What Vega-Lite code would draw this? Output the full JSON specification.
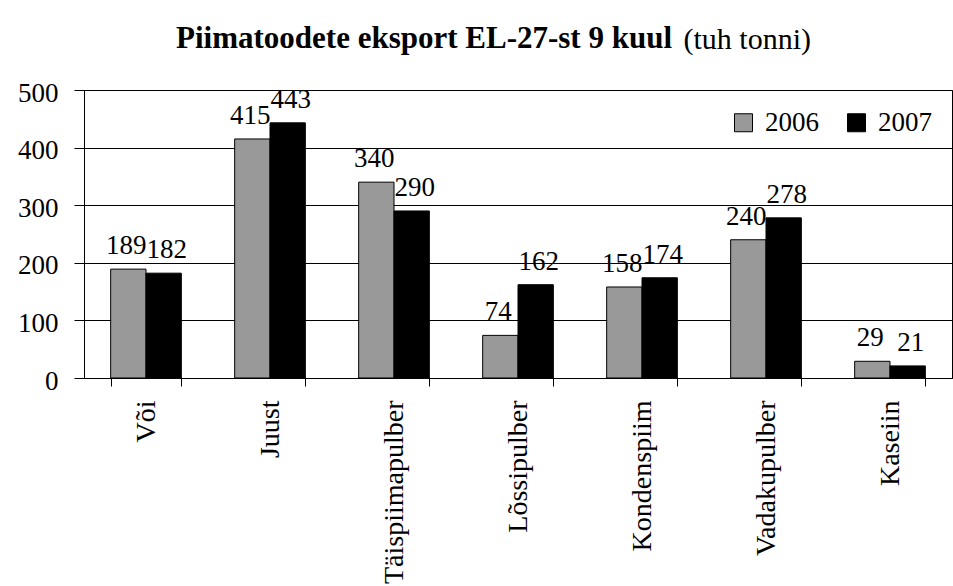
{
  "$schema": "https://vega.github.io/schema/vega-lite/v6.json",
  "width": 868,
  "height": 288,
  "autosize": {"type": "none"},
  "padding": {"left": 84, "top": 90, "right": 1, "bottom": 208},
  "background": "white",
  "title": {
    "text": "Piimatoodete eksport EL-27-st 9 kuul",
    "anchor": "start",
    "frame": "group",
    "dx": 92,
    "dy": 87,
    "offset": 32,
    "baseline": "alphabetic",
    "font": "Liberation Serif",
    "fontSize": 31,
    "fontWeight": "bold",
    "color": "black"
  },
  "data": {
    "values": [
      {"toode": "Või", "aasta": "2006", "tonni": 189},
      {"toode": "Või", "aasta": "2007", "tonni": 182},
      {"toode": "Juust", "aasta": "2006", "tonni": 415},
      {"toode": "Juust", "aasta": "2007", "tonni": 443},
      {"toode": "Täispiimapulber", "aasta": "2006", "tonni": 340},
      {"toode": "Täispiimapulber", "aasta": "2007", "tonni": 290},
      {"toode": "Lõssipulber", "aasta": "2006", "tonni": 74},
      {"toode": "Lõssipulber", "aasta": "2007", "tonni": 162},
      {"toode": "Kondenspiim", "aasta": "2006", "tonni": 158},
      {"toode": "Kondenspiim", "aasta": "2007", "tonni": 174},
      {"toode": "Vadakupulber", "aasta": "2006", "tonni": 240},
      {"toode": "Vadakupulber", "aasta": "2007", "tonni": 278},
      {"toode": "Kaseiin", "aasta": "2006", "tonni": 29},
      {"toode": "Kaseiin", "aasta": "2007", "tonni": 21}
    ]
  },
  "encoding": {
    "x": {
      "field": "toode",
      "type": "nominal",
      "sort": null,
      "scale": {"paddingInner": 0.43, "paddingOuter": 0.215},
      "axis": {
        "title": null,
        "labelAngle": -90,
        "labelFont": "Liberation Serif",
        "labelFontSize": 28,
        "labelColor": "black",
        "labelPadding": 14,
        "tickBand": "extent",
        "tickSize": 8,
        "tickColor": "black",
        "domainColor": "black",
        "labelLimit": 400
      }
    },
    "xOffset": {"field": "aasta", "type": "nominal", "sort": ["2006", "2007"]},
    "y": {
      "field": "tonni",
      "type": "quantitative",
      "scale": {"domain": [0, 500], "nice": false},
      "axis": {
        "values": [0, 100, 200, 300, 400, 500],
        "grid": true,
        "gridColor": "black",
        "gridOpacity": 1,
        "tickSize": 10,
        "tickColor": "black",
        "domainColor": "black",
        "labelFont": "Liberation Serif",
        "labelFontSize": 27,
        "labelColor": "black",
        "labelPadding": 16,
        "labelOffset": 3,
        "title": "(tuh tonni)",
        "titleAngle": 0,
        "titleX": 599,
        "titleY": -42,
        "titleAlign": "left",
        "titleBaseline": "alphabetic",
        "titleFont": "Liberation Serif",
        "titleFontSize": 30,
        "titleFontWeight": "normal",
        "titleColor": "black"
      }
    }
  },
  "layer": [
    {
      "mark": {"type": "bar", "stroke": "black", "strokeWidth": 1},
      "encoding": {
        "color": {
          "field": "aasta",
          "type": "nominal",
          "scale": {"domain": ["2006", "2007"], "range": ["#999999", "#000000"]},
          "legend": {
            "title": null,
            "orient": "none",
            "legendX": 646,
            "legendY": 19,
            "direction": "horizontal",
            "symbolType": "square",
            "symbolSize": 324,
            "symbolStrokeColor": "black",
            "symbolStrokeWidth": 1,
            "symbolOpacity": 1,
            "labelFont": "Liberation Serif",
            "labelFontSize": 27,
            "labelColor": "black",
            "labelOffset": 8,
            "columnPadding": 24
          }
        }
      }
    },
    {
      "transform": [{"filter": "datum.aasta == '2006'"}],
      "mark": {
        "type": "text",
        "font": "Liberation Serif",
        "fontSize": 27,
        "color": "black",
        "baseline": "alphabetic",
        "align": "center",
        "dy": -15,
        "dx": -2
      },
      "encoding": {
        "text": {"field": "tonni", "type": "quantitative"}
      }
    },
    {
      "transform": [{"filter": "datum.aasta == '2007'"}],
      "mark": {
        "type": "text",
        "font": "Liberation Serif",
        "fontSize": 27,
        "color": "black",
        "baseline": "alphabetic",
        "align": "center",
        "dy": -15,
        "dx": 3
      },
      "encoding": {
        "text": {"field": "tonni", "type": "quantitative"}
      }
    }
  ],
  "config": {
    "view": {"stroke": "black", "strokeWidth": 1}
  }
}
